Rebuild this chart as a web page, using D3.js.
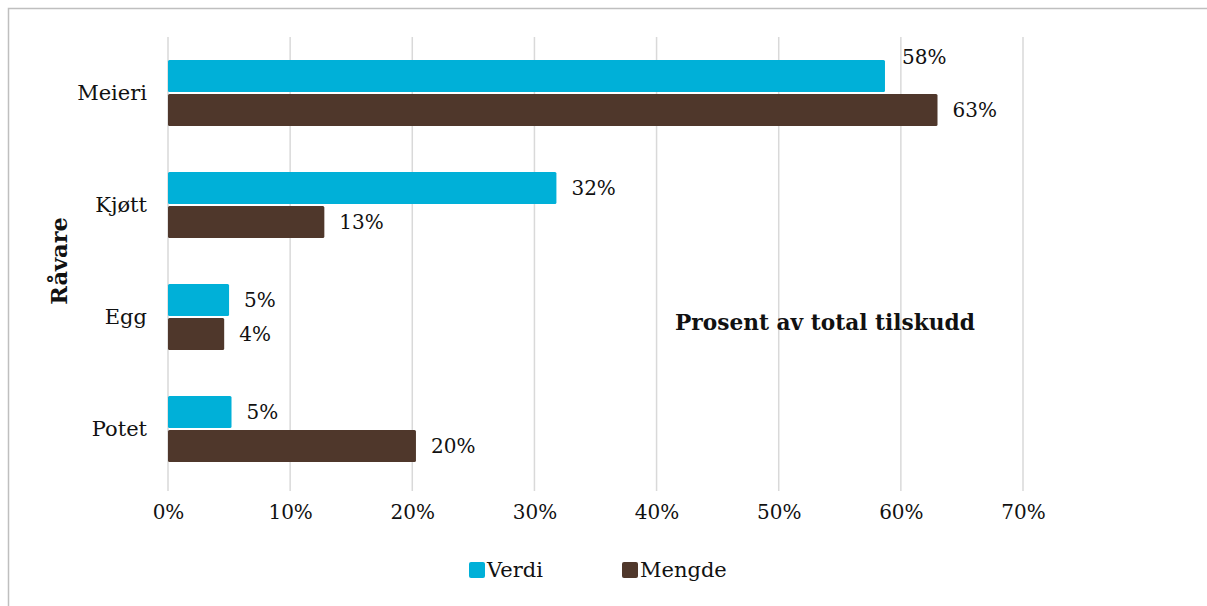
<!DOCTYPE html>
<html>
<head>
<meta charset="utf-8">
<script src="https://cdn.jsdelivr.net/npm/d3@7"></script>
<style>
  body { margin: 0; background: #fff; }
  text { font-family: "DejaVu Serif", Georgia, serif; fill: #111; }
</style>
</head>
<body>
<div id="chart"></div>
<script>
// Data
const categories = ["Meieri", "Kjøtt", "Egg", "Potet"];
const seriesNames = ["Verdi", "Mengde"];
const verdi = [0.587, 0.318, 0.050, 0.052];
const mengde = [0.630, 0.128, 0.046, 0.203];
const verdiLabels = ["58%", "32%", "5%", "5%"];
const mengdeLabels = ["63%", "13%", "4%", "20%"];
const xTicks = [0, 0.1, 0.2, 0.3, 0.4, 0.5, 0.6, 0.7];

const colors = { "Verdi": "#00b0d8", "Mengde": "#4f372b" };

const width = 1207, height = 606;

const svg = d3.select("#chart")
    .append("svg")
    .attr("width", width)
    .attr("height", height);

// outer chart border (only top/left visible in the reference)
svg.append("rect")
    .attr("x", 8.5).attr("y", 8.5)
    .attr("width", 1220).attr("height", 620)
    .attr("fill", "none")
    .attr("stroke", "#bfbfbf")
    .attr("stroke-width", 1.5);

// Scales
const x = d3.scaleLinear().domain([0, 0.7]).range([168, 1023]);
const y = d3.scaleBand().domain(categories).range([37, 485]).paddingInner(0.41).paddingOuter(0.205);
const ySub = d3.scaleBand().domain(seriesNames).range([0, y.bandwidth()]).paddingInner(0.06);

// Gridlines
svg.append("g")
    .selectAll("line")
    .data(xTicks)
    .join("line")
    .attr("x1", d => x(d)).attr("x2", d => x(d))
    .attr("y1", 37).attr("y2", 491)
    .attr("stroke", "#d9d9d9")
    .attr("stroke-width", 1.5);

// X axis labels
const xAxis = svg.append("g")
    .attr("transform", "translate(0,491)")
    .call(d3.axisBottom(x).tickValues(xTicks).tickFormat(d3.format(".0%")).tickSize(0).tickPadding(14));
xAxis.select(".domain").remove();
xAxis.selectAll("text")
    .style("font-size", "20px")
    .style("font-family", "'DejaVu Serif', Georgia, serif")
    .attr("fill", "#111");

// Y axis labels
const yAxis = svg.append("g")
    .attr("transform", "translate(147,0)")
    .call(d3.axisLeft(y).tickSize(0).tickPadding(0));
yAxis.select(".domain").remove();
yAxis.selectAll("text")
    .style("font-size", "21px")
    .style("font-family", "'DejaVu Serif', Georgia, serif")
    .attr("fill", "#111");

// Bars
const rows = categories.map((c, i) => ({
    cat: c,
    items: [
        { s: "Verdi", v: verdi[i], label: verdiLabels[i] },
        { s: "Mengde", v: mengde[i], label: mengdeLabels[i] }
    ]
}));

const groups = svg.append("g")
    .selectAll("g")
    .data(rows)
    .join("g")
    .attr("transform", d => `translate(0,${y(d.cat)})`);

groups.selectAll("rect")
    .data(d => d.items)
    .join("rect")
    .attr("x", x(0))
    .attr("y", d => ySub(d.s))
    .attr("width", d => x(d.v) - x(0))
    .attr("height", ySub.bandwidth())
    .attr("rx", 1.5)
    .attr("fill", d => colors[d.s]);

// Value labels (the Meieri/Verdi label sits above its bar in the reference)
groups.selectAll("text.val")
    .data((d, i) => d.items.map(it => ({ ...it, row: i })))
    .join("text")
    .attr("class", "val")
    .attr("x", d => x(d.v) + (d.row === 0 && d.s === "Verdi" ? 17 : 15))
    .attr("y", d => ySub(d.s) + ySub.bandwidth() / 2 + (d.row === 0 && d.s === "Verdi" ? -19 : 0))
    .attr("dy", "0.35em")
    .style("font-size", "20px")
    .text(d => d.label);

// Y axis title
svg.append("text")
    .attr("transform", "translate(67,261) rotate(-90)")
    .attr("text-anchor", "middle")
    .style("font-size", "22.5px")
    .style("font-weight", "bold")
    .text("Råvare");

// In-chart label
svg.append("text")
    .attr("x", 675)
    .attr("y", 322)
    .attr("dy", "0.35em")
    .style("font-size", "21.7px")
    .style("font-weight", "bold")
    .text("Prosent av total tilskudd");

// Legend
const legend = svg.append("g").attr("transform", "translate(0,570)");
const legendX = { "Verdi": 469, "Mengde": 622 };
seriesNames.forEach(s => {
    legend.append("rect")
        .attr("x", legendX[s]).attr("y", -8)
        .attr("width", 16).attr("height", 16)
        .attr("rx", 2)
        .attr("fill", colors[s]);
    legend.append("text")
        .attr("x", legendX[s] + 18)
        .attr("y", 0)
        .attr("dy", "0.35em")
        .style("font-size", "21px")
        .text(s);
});
</script>
</body>
</html>
